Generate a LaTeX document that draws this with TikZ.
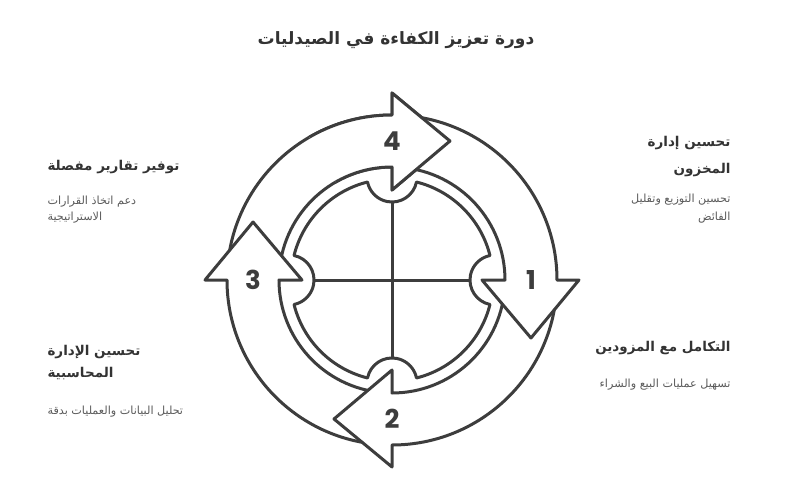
\documentclass[tikz,border=0pt]{standalone}
\usepackage{fontspec}
\usepackage{tikz}
\usetikzlibrary{positioning}
\usepackage{xcolor}
\newfontfamily\arabicfont[Script=Arabic]{DejaVu Sans}
\newfontfamily\digitfont{Poppins}
\TeXXeTstate=1
\definecolor{inkgray}{HTML}{3D3D3D}
\definecolor{titlegray}{HTML}{333333}
\definecolor{descgray}{HTML}{5A5A5A}

\begin{document}
\begin{tikzpicture}[
    x=1pt,y=1pt,
    cyclearrow/.style={draw=inkgray,fill=white,line width=3pt,line join=round},
    discline/.style={draw=inkgray,line width=3pt,line join=round},
    stepnum/.style={font=\digitfont\bfseries\fontsize{26}{26}\selectfont,text=inkgray},
    heading/.style={font=\arabicfont\bfseries\fontsize{13.5}{27}\selectfont,text=titlegray},
    desc/.style={font=\arabicfont\fontsize{11.2}{18}\selectfont,text=descgray}
]
\useasboundingbox (-392,-213) rectangle (400,280);

% Title
\node[font=\arabicfont\bfseries\fontsize{17}{17}\selectfont,text=titlegray] (title) at (4,240) {\beginR دورة تعزيز الكفاءة في الصيدليات\endR};

% Inner disc with four notches and a cross
\draw[discline] (14.04:101) \foreach \t in {90,180,270,360} {
    arc[start angle=\t-75.96,end angle=\t-14.04,radius=101]
    arc[start angle=\t-101.56,end angle=\t-258.44,radius=25]} -- cycle;
\draw[discline] (90:78) -- (270:78);
\draw[discline] (180:78) -- (0:78);

% Four curved arrows, clockwise (4, 3, 2, 1 so each head lies on the next tail)
\foreach \h in {90,180,270,360} {
  \draw[cyclearrow] ({\h+85}:165) arc[start angle=\h+85,end angle=\h,radius=165]
     -- (\h:187) -- ({\h-22.65}:150.6) -- (\h:90) -- (\h:113)
     arc[start angle=\h,end angle=\h+85,radius=113] -- cycle;
}
% head of arrow 4 back over the tail of arrow 1
\begin{scope}
  \clip (0,0) -- (120:210) arc[start angle=120,end angle=30,radius=210] -- cycle;
  \draw[cyclearrow] (175:165) arc[start angle=175,end angle=90,radius=165]
     -- (90:187) -- (67.35:150.6) -- (90:90) -- (90:113)
     arc[start angle=90,end angle=175,radius=113] -- cycle;
\end{scope}

% Step numbers
\node[stepnum] (n1) at (0:139) {1};
\node[stepnum] (n2) at (-90:139) {2};
\node[stepnum] (n3) at (180:139) {3};
\node[stepnum] (n4) at (90:139) {4};

% Right column
\node[heading,anchor=east,align=right] (inventory) at (342,123.5) {\beginR تحسين إدارة\endR\\\beginR المخزون\endR};
\node[desc,anchor=east,align=right] (inventorydesc) at (342,71) {\beginR تحسين التوزيع وتقليل\endR\\\beginR الفائض\endR};
\node[heading,anchor=east,align=right] (suppliers) at (342,-68) {\beginR التكامل مع المزودين\endR};
\node[desc,anchor=east,align=right] (suppliersdesc) at (342,-105) {\beginR تسهيل عمليات البيع والشراء\endR};

% Left column
\node[heading,anchor=west,align=left] (reports) at (-348,113) {\beginR توفير تقارير مفصلة\endR};
\node[desc,anchor=west,align=left,font=\arabicfont\fontsize{11.2}{16}\selectfont] (reportsdesc) at (-348,70) {\beginR دعم اتخاذ القرارات\endR\\\beginR الاستراتيجية\endR};
\node[heading,anchor=west,align=left,font=\arabicfont\bfseries\fontsize{13.5}{21.5}\selectfont] (accounting) at (-348,-82.5) {\beginR تحسين الإدارة\endR\\\beginR المحاسبية\endR};
\node[desc,anchor=west,align=left] (accountingdesc) at (-348,-132) {\beginR تحليل البيانات والعمليات بدقة\endR};
\end{tikzpicture}
\end{document}
